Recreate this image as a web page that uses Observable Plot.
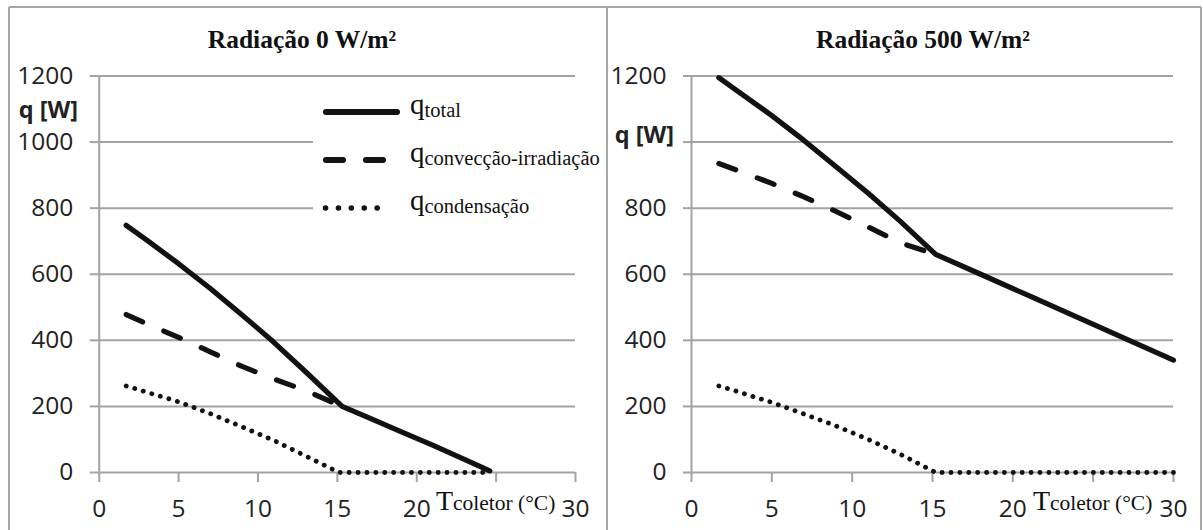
<!DOCTYPE html>
<html><head><meta charset="utf-8">
<script src="https://cdn.jsdelivr.net/npm/d3@7"></script>
<script src="https://cdn.jsdelivr.net/npm/@observablehq/plot@0.6"></script>
<style>
body{margin:0;background:#fff;}
#wrap{position:relative;width:1203px;height:530px;overflow:hidden;background:#fff;}
#wrap > svg{position:absolute;top:0;}
.serif{font-family:"Liberation Serif", serif;}
.sans{font-family:"Open Sans", sans-serif;}
</style></head><body><div id="wrap"></div>
<script>
// ---- text ----
const panelTitles = ["Radiação 0 W/m²", "Radiação 500 W/m²"];
const yLabel = "q [W]";
const xLabelMain = "T";
const xLabelSub = "coletor (°C)";
const legendSubs = ["total", "convecção-irradiação", "condensação"];
const xTicks = [0, 5, 10, 15, 20, 25, 30];
const yTicks = [0, 200, 400, 600, 800, 1000, 1200];

// ---- Radiação 0 W/m² ----
const totalX0 = [1.7, 3, 5, 7, 9, 11, 13, 15.3, 17, 19, 21, 23, 24.6];
const totalY0 = [748, 703, 632, 557, 477, 394, 305, 200, 165, 124, 83, 40, 5];
const convX0 = [1.7, 3, 5, 7, 9, 11, 13, 15.3];
const convY0 = [478, 450, 409, 365, 321, 283, 248, 200];
const condX0 = [1.7, 3, 5, 7, 9, 11, 13, 15.1, 17, 19, 21, 23, 24.6];
const condY0 = [262, 243, 214, 178, 138, 97, 50, 0, 0, 0, 0, 0, 0];

// ---- Radiação 500 W/m² ----
const totalX500 = [1.7, 3, 5, 7, 9, 11, 13, 15.2, 18, 21, 24, 27, 30];
const totalY500 = [1195, 1150, 1080, 1005, 925, 845, 760, 660, 600, 535, 470, 405, 340];
const convX500 = [1.7, 3, 5, 7, 9, 11, 13, 15.2];
const convY500 = [935, 912, 875, 834, 790, 743, 695, 660];
const condX500 = [1.7, 3, 5, 7, 9, 11, 13, 15.2, 18, 21, 24, 27, 30];
const condY500 = [262, 243, 212, 177, 141, 100, 55, 0, 0, 0, 0, 0, 0];

const zip = (xs, ys) => xs.map((x, i) => ({x, y: ys[i]}));
const GRID = "#a3a3a3";
const INK = "#121212";
const TXT = "#222";

function panel({total, conv, cond, width, marginLeft, marginRight, tickSize, hideY}) {
  return Plot.plot({
    width, height: 530,
    marginLeft, marginRight, marginTop: 75.5, marginBottom: 58,
    x: {domain: [0, 30]},
    y: {domain: [0, 1200]},
    style: {background: "transparent", fontFamily: "'Open Sans', sans-serif", fontSize: "24.5px", overflow: "visible"},
    marks: [
      Plot.gridY(yTicks, {stroke: GRID, strokeOpacity: 1, strokeWidth: 2}),
      Plot.ruleX([0], {stroke: GRID, strokeWidth: 2}),
      Plot.axisY({ticks: yTicks, tickSize, tickPadding: 17, stroke: GRID, strokeWidth: 2, fill: TXT, label: null,
        tickFormat: d => (d === hideY ? "" : String(d))}),
      Plot.axisX({ticks: xTicks, tickSize: 10, tickPadding: 17, stroke: GRID, strokeWidth: 2, fill: TXT, label: null,
        tickFormat: d => (d === 25 ? "" : String(d))}),
      Plot.line(cond, {x: "x", y: "y", stroke: INK, strokeWidth: 4.8, strokeLinecap: "round", strokeLinejoin: "round", strokeDasharray: "0.1,8.8"}),
      Plot.line(conv, {x: "x", y: "y", stroke: INK, strokeWidth: 5.2, strokeLinecap: "round", strokeLinejoin: "round", strokeDasharray: "18,23"}),
      Plot.line(total, {x: "x", y: "y", stroke: INK, strokeWidth: 5.2, strokeLinecap: "round", strokeLinejoin: "round"})
    ]
  });
}

const wrap = document.getElementById("wrap");
const left = panel({total: zip(totalX0, totalY0), conv: zip(convX0, convY0), cond: zip(condX0, condY0),
  width: 603, marginLeft: 98.7, marginRight: 28, tickSize: 9, hideY: null});
left.style.left = "0px";
wrap.appendChild(left);
const rightOffset = 603;
const right = panel({total: zip(totalX500, totalY500), conv: zip(convX500, convY500), cond: zip(condX500, condY500),
  width: 600, marginLeft: 88, marginRight: 30, tickSize: 8, hideY: 1000});
right.style.left = rightOffset + "px";
wrap.appendChild(right);

// ---- overlay: frame, titles, labels, legend ----
const ov = d3.create("svg").attr("width", 1203).attr("height", 530).style("left", "0px");

// titles
[[302, 0], [923, 1]].forEach(([cx, i]) => {
  ov.append("text").attr("class", "serif").attr("x", cx).attr("y", 48).attr("text-anchor", "middle")
    .style("font-weight", "bold").style("font-size", "25.5px").attr("fill", "#111")
    .text(panelTitles[i]);
});

// y labels
[[78, 117.5], [674, 143]].forEach(([x, y]) => {
  ov.append("text").attr("class", "sans").attr("x", x).attr("y", y).attr("text-anchor", "end")
    .style("font-weight", "bold").style("font-size", "23.5px").attr("fill", TXT)
    .text(yLabel);
});

// x labels centred on x = 25 of each panel
[[0, left], [rightOffset, right]].forEach(([off, p]) => {
  const cx = off + p.scale("x").apply(25);
  const t = ov.append("text").attr("class", "serif").attr("x", cx).attr("y", 510).attr("text-anchor", "middle")
    .attr("fill", "#111");
  t.append("tspan").style("font-size", "28px").text(xLabelMain);
  t.append("tspan").style("font-size", "21.5px").text(xLabelSub);
});

// legend (left panel)
ov.append("rect").attr("x", 313).attr("y", 88).attr("width", 292).attr("height", 146).attr("fill", "#fff");
const rows = [112, 160, 208];
ov.append("line").attr("x1", 326).attr("x2", 397).attr("y1", rows[0]).attr("y2", rows[0])
  .attr("stroke", INK).attr("stroke-width", 6).attr("stroke-linecap", "round");
ov.append("line").attr("x1", 326).attr("x2", 384).attr("y1", rows[1]).attr("y2", rows[1])
  .attr("stroke", INK).attr("stroke-width", 6).attr("stroke-linecap", "round").attr("stroke-dasharray", "17,23");
ov.append("line").attr("x1", 325.5).attr("x2", 390).attr("y1", rows[2]).attr("y2", rows[2])
  .attr("stroke", INK).attr("stroke-width", 5.5).attr("stroke-linecap", "round").attr("stroke-dasharray", "0.1,12.8");
rows.forEach((y, i) => {
  const t = ov.append("text").attr("class", "serif").attr("x", 410).attr("y", y + 2).attr("fill", "#111");
  t.append("tspan").style("font-size", "29px").text("q");
  t.append("tspan").style("font-size", "20.5px").attr("dy", 3).text(legendSubs[i]);
});

// outer frame and divider
const fr = ov.append("g").attr("stroke", "#a6a6a6").attr("stroke-width", 2);
fr.append("line").attr("x1", 9).attr("x2", 1201).attr("y1", 7).attr("y2", 7);
fr.append("line").attr("x1", 9).attr("x2", 9).attr("y1", 7).attr("y2", 530);
fr.append("line").attr("x1", 607).attr("x2", 607).attr("y1", 7).attr("y2", 530);
fr.append("line").attr("x1", 1201).attr("x2", 1201).attr("y1", 7).attr("y2", 530);

wrap.appendChild(ov.node());
</script></body></html>
